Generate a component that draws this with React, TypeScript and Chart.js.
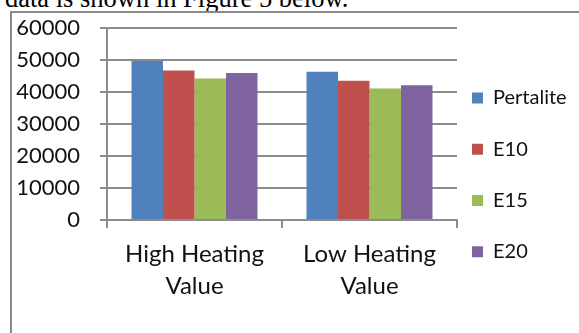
import React, { useEffect, useRef } from "react";
import { Chart, registerables } from "chart.js";

Chart.register(...registerables);

const categories: string[][] = [
  ["High Heating", "Value"],
  ["Low Heating", "Value"],
];
const seriesNames = ["Pertalite", "E10", "E15", "E20"];
const pertalite = [49700, 46300];
const e10 = [46700, 43500];
const e15 = [44200, 41100];
const e20 = [45900, 42100];
const seriesColors = ["#4F81BD", "#C0504D", "#9BBB59", "#8064A2"];
const yMin = 0;
const yMax = 60000;
const yStep = 10000;

const FONT = "Lato";
const GRID = "#8c8c8c";
const TEXT = "#111111";

export default function App() {
  const ref = useRef<HTMLCanvasElement | null>(null);

  useEffect(() => {
    const canvas = ref.current;
    if (!canvas) return;
    const legendFontSize = 20;
    const legendPad = 15;
    const legendBox = 11;
    const m = document.createElement("canvas").getContext("2d")!;
    m.font = `${legendFontSize}px ${FONT}`;
    const maxText = Math.max(...seriesNames.map((s) => m.measureText(s).width));
    const legendWidth = legendPad + legendBox + legendFontSize / 2 + maxText + 10;
    const rightPad = Math.max(0, 579 - 457 - legendWidth);

    const values = [pertalite, e10, e15, e20];
    const chart = new Chart(canvas, {
      type: "bar",
      data: {
        labels: categories,
        datasets: seriesNames.map((name, i) => ({
          label: name,
          data: values[i],
          backgroundColor: seriesColors[i],
          borderWidth: 0,
          barPercentage: 1,
          categoryPercentage: 0.72,
        })),
      },
      options: {
        animation: false,
        responsive: false,
        layout: { padding: { top: 28, left: 0, right: rightPad, bottom: 0 } },
        plugins: {
          tooltip: { enabled: false },
          legend: {
            position: "right",
            align: "center",
            title: {
              display: true,
              text: "",
              padding: 0,
              font: { family: FONT, size: 5, lineHeight: 1 },
            },
            labels: {
              boxWidth: legendBox,
              boxHeight: legendBox,
              padding: legendPad,
              color: TEXT,
              font: { family: FONT, size: legendFontSize, lineHeight: 1.815 },
              generateLabels: (chart: any) =>
                Chart.defaults.plugins.legend.labels
                  .generateLabels(chart)
                  .map((l: any) => ({ ...l, text: [l.text], lineWidth: 0 })),
            },
          },
        },
        scales: {
          x: {
            type: "category",
            offset: true,
            grid: {
              offset: true,
              drawOnChartArea: false,
              drawTicks: true,
              tickLength: 8,
              color: GRID,
              lineWidth: 2,
            },
            border: { color: GRID, width: 2 },
            ticks: {
              color: TEXT,
              padding: 10,
              maxRotation: 0,
              font: { family: FONT, size: 24, lineHeight: 1.35 },
            },
            afterFit: (scale: any) => {
              scale.height = 333 - 220;
            },
          },
          y: {
            min: yMin,
            max: yMax,
            ticks: {
              stepSize: yStep,
              color: TEXT,
              padding: 20,
              font: { family: FONT, size: 22 },
              callback: (v: any) => String(v),
            },
            grid: {
              color: GRID,
              lineWidth: 2,
              drawTicks: true,
              tickLength: 7,
            },
            border: { color: GRID, width: 2 },
            afterFit: (scale: any) => {
              scale.width = 107;
              scale.paddingTop = 0;
              scale.paddingBottom = 0;
            },
          },
        },
      },
    } as any);
    return () => chart.destroy();
  }, []);

  return (
    <div
      style={{
        position: "fixed",
        left: 0,
        top: 0,
        width: 579,
        height: 333,
        overflow: "hidden",
        background: "#ffffff",
      }}
    >
      <div
        style={{
          position: "absolute",
          left: 5,
          top: -15,
          fontFamily: "'Liberation Serif', 'Times New Roman', serif",
          fontSize: 26.5,
          lineHeight: "26px",
          whiteSpace: "nowrap",
          color: "#000",
        }}
      >
        data is shown in Figure 5 below.
      </div>
      <div
        style={{
          position: "absolute",
          left: 10,
          top: 11,
          width: 600,
          height: 400,
          borderLeft: "2px solid #8a8a8a",
          borderTop: "2px solid #8a8a8a",
        }}
      />
      <canvas
        ref={ref}
        width={579}
        height={333}
        style={{ position: "absolute", left: 0, top: 0, width: 579, height: 333 }}
      />
    </div>
  );
}
